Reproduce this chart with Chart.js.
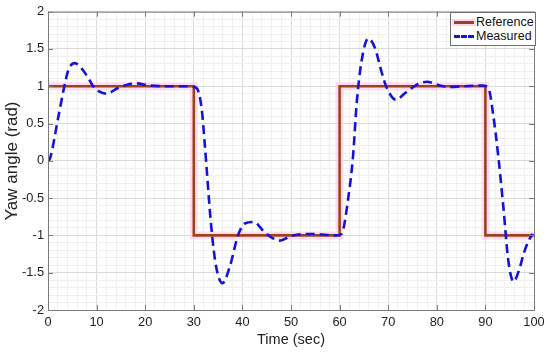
<!DOCTYPE html>
<html>
<head>
    <meta charset="UTF-8">
    <title>Yaw angle</title>
    <script src="https://cdn.jsdelivr.net/npm/chart.js"></script>
    <style>
        body { margin: 0; background: #fff; }
        .wrap { position: relative; width: 550px; height: 353px; }
        .legend {
            position: absolute;
            left: 450px;
            top: 12px;
            width: 84px;
            height: 32px;
            background: #fff;
            border: 1px solid #6e6e6e;
            font-family: "Liberation Sans", Arial, sans-serif;
            font-size: 12.5px;
            color: #111;
        }
        .legend .row { position: absolute; left: 3px; height: 14px; line-height: 14px; }
        .legend .sample { display: inline-block; width: 20px; vertical-align: middle; margin-right: 2px; }
        .legend .ref { border-top: 3px solid #9c4418; box-shadow: 0 0 0 2px #ffd6f0; }
        .legend .meas { border-top: 3px dashed #1414d8; }
    </style>
</head>
<body>
<div class="wrap">
    <canvas id="yawChart" width="550" height="353"></canvas>
    <div class="legend">
        <div class="row" style="top:2px"><span class="sample ref"></span>Reference</div>
        <div class="row" style="top:16px"><span class="sample meas"></span>Measured</div>
    </div>
</div>
<script>
    // reference step input (time in sec, yaw in rad)
    const refTime = [0, 30, 30, 60, 60, 90, 90, 100];
    const refYaw  = [1, 1, -1, -1, 1, 1, -1, -1];

    const measTime = [0, 0.4, 2.1, 3.3, 4.2, 5.5, 6.9, 8.3, 9.3, 10.5, 12, 14.5, 17.9, 21, 24.4, 28.5,
                      30.5, 31.6, 32.2, 33.6, 34.6, 35.9, 37.4, 39.1, 40.5, 42.3, 44.6, 46.3, 47.6, 50.4, 54.6, 59.3,
                      60.4, 61.8, 62.8, 63.5, 64.5, 65.9, 67.3, 68.6, 69.7, 71.6, 73.5, 75.9, 78, 80.6, 82.4, 85.4, 89.3,
                      90.6, 91.6, 92.6, 93.7, 94.7, 95.8, 96.9, 97.9, 98.9, 99.7];
    const measYaw  = [0, 0.03, 0.58, 0.98, 1.22, 1.31, 1.24, 1.11, 1.0, 0.93, 0.9, 0.98, 1.04, 1.01, 1.0, 1.0,
                      0.98, 0.71, 0.27, -0.89, -1.42, -1.64, -1.42, -1.0, -0.84, -0.82, -0.96, -1.04, -1.07, -1.0, -0.98, -1.0,
                      -0.98, -0.49, 0.09, 0.76, 1.33, 1.64, 1.51, 1.2, 0.98, 0.82, 0.91, 1.02, 1.06, 1.01, 0.99, 1.0, 1.01,
                      0.98, 0.62, 0.09, -0.62, -1.33, -1.62, -1.47, -1.24, -1.07, -0.98];

    const xMajor = 10;
    const yMajor = 0.5;

    const fontFam = '"Liberation Sans", Arial, sans-serif';

    function isMajor(v, step) {
        const r = v / step;
        return Math.abs(r - Math.round(r)) < 1e-6;
    }

    // frame round the plot plus small inward ticks, matlab style
    const framePlugin = {
        id: 'frame',
        afterDraw(chart) {
            const a = chart.chartArea;
            const c = chart.ctx;
            c.save();
            c.strokeStyle = '#7a7a7a';
            c.lineWidth = 1;
            c.strokeRect(a.left + 0.5, a.top + 0.5, a.right - a.left, a.bottom - a.top);
            c.beginPath();
            chart.scales.x.ticks.forEach(t => {
                if (!isMajor(t.value, xMajor)) return;
                const px = Math.round(chart.scales.x.getPixelForValue(t.value)) + 0.5;
                c.moveTo(px, a.bottom); c.lineTo(px, a.bottom - 5);
                c.moveTo(px, a.top); c.lineTo(px, a.top + 5);
            });
            chart.scales.y.ticks.forEach(t => {
                if (!isMajor(t.value, yMajor)) return;
                const py = Math.round(chart.scales.y.getPixelForValue(t.value)) + 0.5;
                c.moveTo(a.left, py); c.lineTo(a.left + 5, py);
                c.moveTo(a.right, py); c.lineTo(a.right - 5, py);
            });
            c.stroke();
            c.restore();
        }
    };

    const refPoints = refTime.map((t, i) => ({ x: t, y: refYaw[i] }));
    const measPoints = measTime.map((t, i) => ({ x: t, y: measYaw[i] }));

    new Chart(document.getElementById('yawChart').getContext('2d'), {
        type: 'line',
        data: {
            datasets: [
                {
                    label: 'Measured',
                    data: measPoints,
                    borderColor: '#1414d8',
                    borderWidth: 2.6,
                    borderDash: [9, 5],
                    pointRadius: 0,
                    cubicInterpolationMode: 'monotone',
                    order: 0
                },
                {
                    label: 'Reference',
                    data: refPoints,
                    borderColor: '#9c4418',
                    borderWidth: 2.6,
                    pointRadius: 0,
                    tension: 0,
                    order: 1
                },
                {
                    label: 'halo',
                    data: refPoints,
                    borderColor: 'rgba(255, 205, 238, 0.7)',
                    borderWidth: 8,
                    pointRadius: 0,
                    tension: 0,
                    order: 2
                }
            ]
        },
        options: {
            responsive: false,
            animation: false,
            layout: { padding: { top: 10, right: 16, left: 0, bottom: 0 } },
            plugins: {
                legend: { display: false },
                tooltip: { enabled: false }
            },
            scales: {
                x: {
                    type: 'linear',
                    min: 0,
                    max: 100,
                    afterFit(s) { s.height = 43; },
                    border: { display: false },
                    grid: {
                        drawTicks: false,
                        color: ctx => isMajor(ctx.tick.value, xMajor) ? '#dadada' : '#efefef'
                    },
                    ticks: {
                        stepSize: 2,
                        autoSkip: false,
                        maxRotation: 0,
                        padding: 5,
                        color: '#222',
                        font: { family: fontFam, size: 12.8 },
                        callback: v => isMajor(v, xMajor) ? String(Math.round(v)) : ''
                    },
                    title: {
                        display: true,
                        text: 'Time (sec)',
                        color: '#222',
                        font: { family: fontFam, size: 14.5 },
                        padding: { top: 4, bottom: 4 }
                    }
                },
                y: {
                    min: -2,
                    max: 2,
                    afterFit(s) { s.width = 48; },
                    border: { display: false },
                    grid: {
                        drawTicks: false,
                        color: ctx => isMajor(ctx.tick.value, yMajor) ? '#dadada' : '#efefef'
                    },
                    ticks: {
                        stepSize: 0.1,
                        autoSkip: false,
                        padding: 4,
                        color: '#222',
                        font: { family: fontFam, size: 12.8 },
                        callback: v => isMajor(v, yMajor) ? String(Math.round(v * 10) / 10) : ''
                    },
                    title: {
                        display: true,
                        text: 'Yaw angle (rad)',
                        color: '#222',
                        font: { family: fontFam, size: 17 },
                        padding: { top: 2, bottom: 2 }
                    }
                }
            }
        },
        plugins: [framePlugin]
    });
</script>
</body>
</html>
